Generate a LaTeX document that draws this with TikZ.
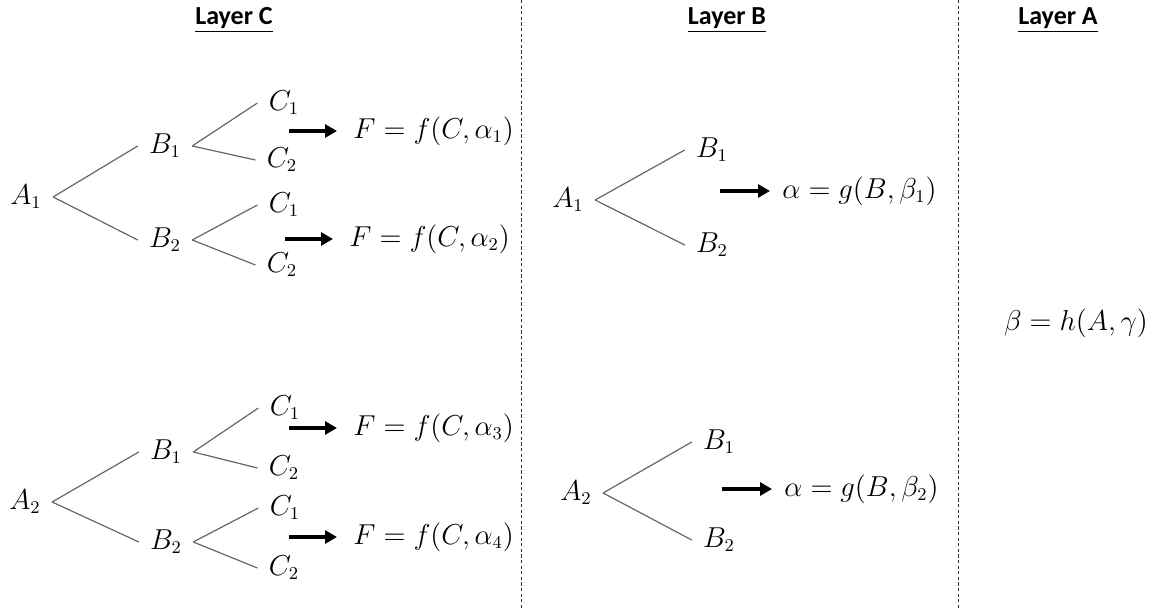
\documentclass[tikz,border=0pt]{standalone}
\usepackage{fontspec}
\newfontfamily\headfont{Carlito}
\usetikzlibrary{arrows.meta}

\begin{document}
\begin{tikzpicture}[x=0.5pt, y=-0.5pt,
    lbl/.style={inner xsep=5.5pt, inner ysep=2pt, font=\fontsize{13.5}{16}\selectfont},
    fml/.style={anchor=west, inner xsep=8pt, font=\fontsize{13.5}{16}\selectfont},
    head/.style={font=\headfont\bfseries\fontsize{13}{15}\selectfont},
    branch/.style={draw=black!60, line width=0.6pt},
    push/.style={-{Triangle[length=6pt, width=6.5pt]}, line width=1.6pt},
    divider/.style={black!80, line width=0.5pt, dash pattern=on 1.6pt off 1.2pt}
  ]
    \useasboundingbox (0,0) rectangle (1157,608);

    % headings and column dividers
    \node[head] (hc) at (234,20) {\underline{Layer C}};
    \node[head] (hb) at (727,20) {\underline{Layer B}};
    \node[head] (ha) at (1058,20) {\underline{Layer A}};
    \draw[divider] (521,0) -- (521,608);
    \draw[divider] (958,0) -- (958,608);

    % Layer C, first tree
    \node[lbl] (ca1)   at (26,197)  {$A_1$};
    \node[lbl] (ca1b1) at (165,146) {$B_1$};
    \node[lbl] (ca1b2) at (165,240) {$B_2$};
    \node[lbl] (cc11)  at (284,103) {$C_1$};
    \node[lbl] (cc12)  at (282,160) {$C_2$};
    \node[lbl] (cc21)  at (284,205) {$C_1$};
    \node[lbl] (cc22)  at (282,265) {$C_2$};
    \node[fml] (f1) at (337,131) {$F=f(C,\alpha_1)$};
    \node[fml] (f2) at (333,239) {$F=f(C,\alpha_2)$};

    \draw[branch] (ca1.east) -- (ca1b1.west);
    \draw[branch] (ca1.east) -- (ca1b2.west);
    \draw[branch] (ca1b1.east) -- (cc11.west);
    \draw[branch] (ca1b1.east) -- (cc12.west);
    \draw[branch] (ca1b2.east) -- (cc21.west);
    \draw[branch] (ca1b2.east) -- (cc22.west);
    \draw[push] ([xshift=-24pt]f1.west) -- (f1.west);
    \draw[push] ([xshift=-24pt]f2.west) -- (f2.west);

    % Layer C, second tree
    \node[lbl] (ca2)   at (25,502)  {$A_2$};
    \node[lbl] (ca2b1) at (166,452) {$B_1$};
    \node[lbl] (ca2b2) at (166,542) {$B_2$};
    \node[lbl] (cc31)  at (285,408) {$C_1$};
    \node[lbl] (cc32)  at (284,468) {$C_2$};
    \node[lbl] (cc41)  at (285,508) {$C_1$};
    \node[lbl] (cc42)  at (284,568) {$C_2$};
    \node[fml] (f3) at (337,428) {$F=f(C,\alpha_3)$};
    \node[fml] (f4) at (337,537) {$F=f(C,\alpha_4)$};

    \draw[branch] (ca2.east) -- (ca2b1.west);
    \draw[branch] (ca2.east) -- (ca2b2.west);
    \draw[branch] (ca2b1.east) -- (cc31.west);
    \draw[branch] (ca2b1.east) -- (cc32.west);
    \draw[branch] (ca2b2.east) -- (cc41.west);
    \draw[branch] (ca2b2.east) -- (cc42.west);
    \draw[push] ([xshift=-24pt]f3.west) -- (f3.west);
    \draw[push] ([xshift=-24pt]f4.west) -- (f4.west);

    % Layer B
    \node[lbl] (ba1)   at (568,200) {$A_1$};
    \node[lbl] (ba1b1) at (712,150) {$B_1$};
    \node[lbl] (ba1b2) at (712,245) {$B_2$};
    \node[fml, inner xsep=6pt] (g1) at (770,191) {$\alpha=g(B,\beta_1)$};
    \draw[branch] (ba1.east) -- (ba1b1.west);
    \draw[branch] (ba1.east) -- (ba1b2.west);
    \draw[push] ([xshift=-25pt]g1.west) -- (g1.west);

    \node[lbl] (ba2)   at (576,493) {$A_2$};
    \node[lbl] (ba2b1) at (719,442) {$B_1$};
    \node[lbl] (ba2b2) at (719,540) {$B_2$};
    \node[fml, inner xsep=6pt] (g2) at (772,489) {$\alpha=g(B,\beta_2)$};
    \draw[branch] (ba2.east) -- (ba2b1.west);
    \draw[branch] (ba2.east) -- (ba2b2.west);
    \draw[push] ([xshift=-25pt]g2.west) -- (g2.west);

    % Layer A
    \node[lbl] (hfun) at (1076,323) {$\beta=h(A,\gamma)$};
  \end{tikzpicture}
\end{document}
